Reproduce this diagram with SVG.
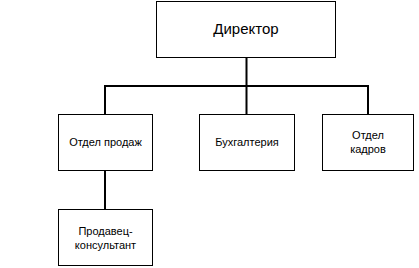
<svg xmlns="http://www.w3.org/2000/svg" width="419" height="268" viewBox="0 0 419 268">
<style>
.box{fill:#fff;stroke:#000;stroke-width:1}
.t{font-family:"Liberation Sans",Arial,sans-serif;font-size:11px;text-anchor:middle;fill:#000}
.big{font-size:15px}
.c{fill:none;stroke:#000;stroke-width:2}
</style>
<rect width="419" height="268" fill="#fff"/>
<g id="connectors">
<path class="c" d="M246.5 57V86M105 114V86H368V114M246.5 86V114M105 171V209"/>
</g>
<g id="director"><rect class="box" x="156.5" y="1.5" width="179" height="56"/><text class="t big" x="246" y="34">Директор</text></g>
<g id="sales"><rect class="box" x="58.5" y="114.5" width="94" height="56"/><text class="t" x="105.5" y="146">Отдел продаж</text></g>
<g id="accounting"><rect class="box" x="199.5" y="114.5" width="95" height="56"/><text class="t" x="247" y="146">Бухгалтерия</text></g>
<g id="hr"><rect class="box" x="322.5" y="114.5" width="91" height="56"/><text class="t" x="368" y="139">Отдел</text><text class="t" x="368" y="153">кадров</text></g>
<g id="consultant"><rect class="box" x="58.5" y="209.5" width="94" height="56"/><text class="t" x="105.5" y="235">Продавец-</text><text class="t" x="105.5" y="249">консультант</text></g>
</svg>
